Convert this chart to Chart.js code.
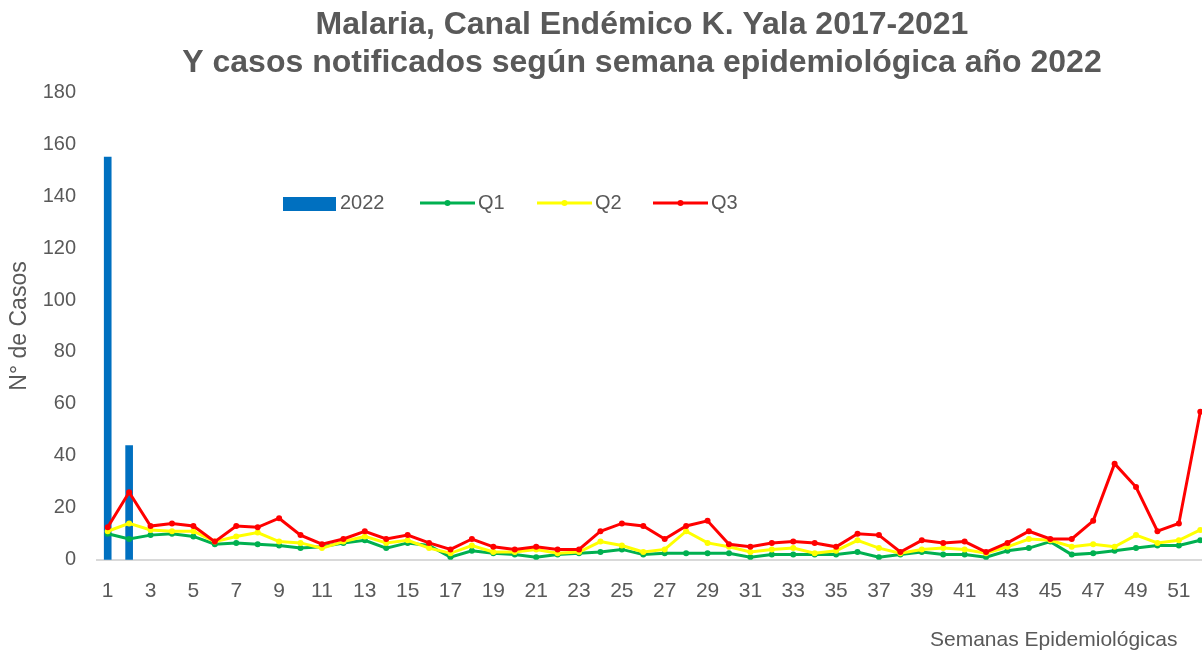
<!DOCTYPE html>
<html>
<head>
<meta charset="utf-8">
<script src="https://cdn.jsdelivr.net/npm/chart.js@4/dist/chart.umd.min.js"></script>
<style>
  html, body { margin: 0; padding: 0; background: #fff; }
  #marco { width: 1202px; height: 650px; overflow: hidden; position: relative; }
  #marco canvas { position: absolute; left: 0; top: 0; }
</style>
</head>
<body>
<div id="marco">
  <canvas id="chartCanal" width="1284" height="650"></canvas>
</div>
<script>
/* datos */
const semanas = [];
for (let i = 1; i <= 52; i++) semanas.push(String(i));

const casos2022 = [155, 44];

const q1 = [10, 8, 9.5, 10, 9, 6, 6.5, 6, 5.5, 4.5, 5, 6.5, 7.5, 4.5, 6.5, 5.5, 1, 3.5, 2.5, 2,
  1, 2, 2.5, 3, 4, 2, 2.5, 2.5, 2.5, 2.5, 1, 2, 2, 2, 2, 3, 1, 2, 3, 2,
  2, 1, 3.5, 4.5, 7, 2, 2.5, 3.5, 4.5, 5.5, 5.5, 7.5];

const q2 = [11, 14, 11.5, 11, 11, 7, 9, 10.5, 7, 6.5, 4.5, 7, 9, 6.5, 7.5, 4.5, 2.5, 5.5, 3, 3,
  4, 2.5, 3, 7, 5.5, 3, 4, 11, 6.5, 5, 3, 4, 4.5, 2.5, 3.5, 7.5, 4.5, 2.5, 4, 4.5,
  4, 2.5, 5, 8, 7.5, 5, 6, 5, 9.5, 6.5, 7.5, 11.5];

const q3 = [12.5, 26, 13, 14, 13, 7, 13, 12.5, 16, 9.5, 6, 8, 11, 8, 9.5, 6.5, 4, 8, 5, 4,
  5, 4, 4, 11, 14, 13, 8, 13, 15, 6, 5, 6.5, 7, 6.5, 5, 10, 9.5, 3, 7.5, 6.5,
  7, 3, 6.5, 11, 8, 8, 15, 37, 28, 11, 14, 57];

const grisTexto = "#595959";
const fuente = "'Liberation Sans', Arial, sans-serif";

/* leyenda y titulo del eje x dibujados dentro del area */
const textosExtra = {
  id: "textosExtra",
  afterDraw(chart) {
    const ctx = chart.ctx;
    const ds = chart.data.datasets;
    ctx.save();
    ctx.font = "20px " + fuente;
    ctx.fillStyle = grisTexto;
    ctx.textBaseline = "middle";
    ctx.textAlign = "left";
    const y = 203;
    // 2022
    ctx.fillStyle = ds[0].backgroundColor;
    ctx.fillRect(283, 197, 53, 14);
    ctx.fillStyle = grisTexto;
    ctx.fillText(ds[0].label, 340, y);
    // series
    const items = [[ds[1], 420], [ds[2], 537], [ds[3], 653]];
    items.forEach(([d, x]) => {
      ctx.strokeStyle = d.borderColor;
      ctx.lineWidth = 3;
      ctx.beginPath();
      ctx.moveTo(x, y);
      ctx.lineTo(x + 55, y);
      ctx.stroke();
      ctx.fillStyle = d.borderColor;
      ctx.beginPath();
      ctx.arc(x + 27.5, y, 3, 0, Math.PI * 2);
      ctx.fill();
      ctx.fillStyle = grisTexto;
      ctx.fillText(d.label, x + 58, y);
    });
    // titulo eje x
    ctx.font = "21px " + fuente;
    ctx.fillText("Semanas Epidemiológicas", 930, 640);
    ctx.restore();
  }
};

const ctxCanal = document.getElementById("chartCanal").getContext("2d");

const chartCanal = new Chart(ctxCanal, {
  data: {
    labels: semanas,
    datasets: [
      {
        type: "bar",
        label: "2022",
        data: casos2022,
        backgroundColor: "#0070C0",
        barThickness: 7,
        order: 4,
      },
      {
        type: "line",
        label: "Q1",
        data: q1,
        borderColor: "#00B050",
        backgroundColor: "#00B050",
        borderWidth: 3,
        pointRadius: 3,
        pointBorderWidth: 0,
        tension: 0,
        order: 3,
      },
      {
        type: "line",
        label: "Q2",
        data: q2,
        borderColor: "#FFFF00",
        backgroundColor: "#FFFF00",
        borderWidth: 3,
        pointRadius: 3,
        pointBorderWidth: 0,
        tension: 0,
        order: 2,
      },
      {
        type: "line",
        label: "Q3",
        data: q3,
        borderColor: "#FF0000",
        backgroundColor: "#FF0000",
        borderWidth: 3,
        pointRadius: 3,
        pointBorderWidth: 0,
        tension: 0,
        order: 1,
      },
    ],
  },
  options: {
    responsive: false,
    animation: false,
    layout: {
      padding: { left: 0, right: 0, top: 0, bottom: 27 },
    },
    plugins: {
      legend: { display: false },
      tooltip: { enabled: false },
      title: {
        display: true,
        text: [
          "Malaria, Canal Endémico K. Yala 2017-2021",
          "Y casos notificados según semana epidemiológica año 2022",
        ],
        color: grisTexto,
        font: { family: fuente, size: 32, weight: "bold", lineHeight: 1.19 },
        padding: { top: 6, bottom: 10 },
      },
    },
    scales: {
      x: {
        grid: { display: false, drawTicks: false },
        border: { display: true, color: "#D9D9D9", width: 2 },
        ticks: {
          autoSkip: false,
          maxRotation: 0,
          padding: 19,
          color: grisTexto,
          font: { family: fuente, size: 21 },
          callback: function (value, index) {
            return index % 2 === 0 ? this.getLabelForValue(value) : "";
          },
        },
        // la semana 52 queda cortada en el borde derecho
        afterFit: (scale) => {
          scale.paddingRight = 73;
        },
      },
      y: {
        min: 0,
        max: 180,
        grid: { display: false, drawTicks: false },
        border: { display: false },
        ticks: {
          stepSize: 20,
          padding: 21,
          color: grisTexto,
          font: { family: fuente, size: 20 },
        },
        title: {
          display: true,
          text: "N° de Casos",
          color: grisTexto,
          font: { family: fuente, size: 23 },
          padding: { top: 6, bottom: 0 },
        },
        afterFit: (scale) => {
          scale.width = 97;
        },
      },
    },
  },
  plugins: [textosExtra],
});
</script>
</body>
</html>
